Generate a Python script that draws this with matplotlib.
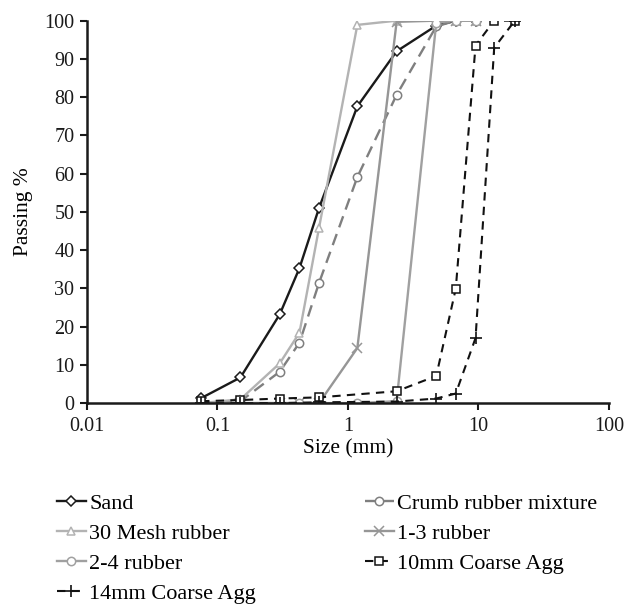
import numpy as np
import matplotlib.pyplot as plt

plt.rcParams['font.family'] = ['Liberation Serif', 'DejaVu Serif']

# DATOS (tamiz en mm, % que pasa)
sizes = [0.075, 0.15, 0.3, 0.425, 0.6, 1.18, 2.36, 4.75, 6.7, 9.5]
sizes_agg = [0.075, 0.15, 0.3, 0.6, 2.36, 4.75, 6.7, 9.5, 13.2, 19]

sand = [1.3, 6.7, 23.2, 35.3, 51.0, 77.6, 92.0, 98.7, 100, 100]
crumb = [0, 0.5, 8.2, 15.8, 31.4, 59.1, 80.6, 98.5, 100, 100]
mesh30 = [0, 1.0, 10.4, 18.4, 45.8, 98.9, 100, 100, 100, 100]
rub13 = [0, 0, 0, 0, 0, 14.4, 99.7, 100, 100, 100]
rub24 = [0, 0, 0, 0, 0, 0, 0.5, 99.5, 100, 100]
agg10 = [0.5, 0.8, 1.2, 1.5, 3.1, 7.1, 29.9, 93.5, 100, 100]
agg14 = [0, 0, 0, 0.2, 0.4, 1.2, 2.5, 17.0, 92.9, 100]

fig = plt.figure(figsize=(6.33, 6.08), dpi=100)
ax = fig.add_axes([0.1374, 0.337, 0.8246, 0.629])

mk = dict(markersize=6, markerfacecolor='white', markeredgewidth=1.1)

l_sand, = ax.plot(sizes, sand, color='#1a1a1a', lw=1.7, marker='D', markersize=5,
                  markerfacecolor='white', markeredgewidth=1.1, label='Sand')
l_crumb, = ax.plot(sizes, crumb, color='#7f7f7f', lw=1.7, ls=(0, (5, 3)), marker='o',
                   label='Crumb rubber mixture', **mk)
l_mesh, = ax.plot(sizes, mesh30, color='#b3b3b3', lw=1.7, marker='^',
                  label='30 Mesh rubber', **mk)
l_13, = ax.plot(sizes, rub13, color='#969696', lw=1.7, marker='x',
                markersize=7, markeredgewidth=1.1, label='1-3 rubber')
l_24, = ax.plot(sizes, rub24, color='#a0a0a0', lw=1.7, marker='o',
                label='2-4 rubber', **mk)
l_10, = ax.plot(sizes_agg, agg10, color='#111111', lw=1.5, ls=(0, (4, 3)), marker='s',
                label='10mm Coarse Agg', **mk)
l_14, = ax.plot(sizes_agg, agg14, color='#111111', lw=1.5, ls=(0, (4, 3)), marker='+',
                markersize=9, markeredgewidth=1.2, label='14mm Coarse Agg')

ax.set_xscale('log')
ax.set_xlim(0.01, 100)
ax.set_ylim(0, 100)
ax.set_yticks(np.arange(0, 101, 10))
ax.set_xticks([0.01, 0.1, 1, 10, 100])
ax.set_xticklabels(['0.01', '0.1', '1', '10', '100'])
ax.minorticks_off()

for s in ['top', 'right']:
    ax.spines[s].set_visible(False)
for s in ['left', 'bottom']:
    ax.spines[s].set_linewidth(1.8)
    ax.spines[s].set_color('#1a1a1a')
ax.tick_params(axis='both', labelsize=14.5, width=1.5, length=5, direction='out',
               colors='#1a1a1a')
ax.tick_params(axis='x', pad=5)
ax.tick_params(axis='y', pad=4)

ax.set_xlabel('Size (mm)', fontsize=15.5, labelpad=2)
ax.set_ylabel('Passing %', fontsize=15.5, labelpad=8)

handles = [l_sand, l_mesh, l_24, l_14, l_crumb, l_13, l_10]
fig.legend(handles, [h.get_label() for h in handles], ncol=2,
           loc='upper left', bbox_to_anchor=(0.09, 0.188), frameon=False,
           fontsize=16, handlelength=1.3, handletextpad=0.15, borderpad=0,
           columnspacing=4.9, labelspacing=0.42, borderaxespad=0)

fig.savefig('out.png', dpi=100)
plt.close('all')
